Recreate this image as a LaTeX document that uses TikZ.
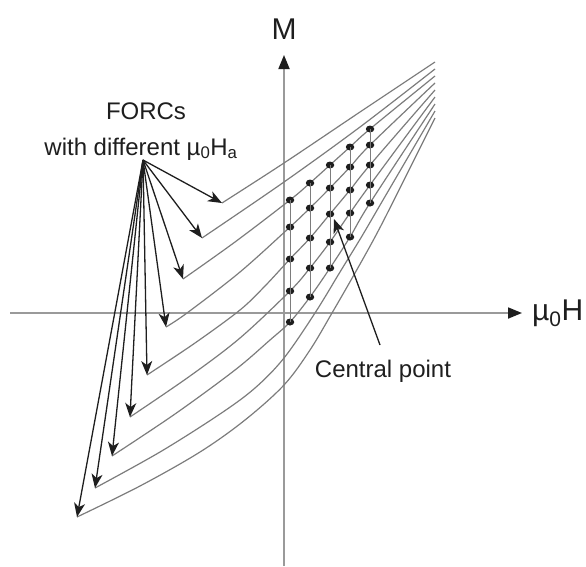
\documentclass[tikz,border=0pt]{standalone}
\usepackage{fontspec}
\setmainfont{Liberation Sans}
\usetikzlibrary{arrows.meta,shapes.geometric}
\definecolor{curvegray}{HTML}{7C7C7C}
\definecolor{axisgray}{HTML}{9A9A9A}
\definecolor{txt}{HTML}{1E1E1E}
\begin{document}
\begin{tikzpicture}[x=1pt,y=-1pt,
  curve/.style={draw=curvegray,line width=1.2pt},
  axis/.style={draw=axisgray,line width=1.8pt,-{Triangle[length=14pt,width=11pt,color=txt]}},
  pointer/.style={draw=txt,line width=1.3pt,-{Stealth[length=14pt,width=11pt,inset=4pt]}},
  gridline/.style={draw=curvegray,line width=1pt},
  dot/.style={fill=txt,ellipse,inner sep=0pt,minimum width=8.5pt,minimum height=7pt,draw=none},
  lab/.style={text=txt,inner sep=0pt,font=\fontsize{24}{28}\selectfont},
  biglab/.style={text=txt,inner sep=0pt,font=\fontsize{30}{34}\selectfont}]
\useasboundingbox (0,0) rectangle (586,566);
% axes
\coordinate (hx0) at (10,313);
\coordinate (hx1) at (522,313);
\coordinate (vy0) at (284,566);
\coordinate (vy1) at (284,55);
\draw[axis] (hx0) -- (hx1);
\draw[axis] (vy0) -- (vy1);
\node[biglab] (M) at (284,29) {M};
\node[biglab,anchor=west] (muH) at (532,313) {µ\textsubscript{0}H};
% curves
\draw[curve] plot[smooth,tension=0.55] coordinates {(222,203) (284,163) (360,112) (435,62)};
\draw[curve] plot[smooth,tension=0.55] coordinates {(202,238) (284,182) (360,127) (435,69)};
\draw[curve] plot[smooth,tension=0.55] coordinates {(183,279) (235,242) (290,200) (310,183) (330,165) (350,147) (370,129) (435,76)};
\draw[curve] plot[smooth,tension=0.55] coordinates {(166,327) (187,313) (240,272) (290,227) (310,208) (330,188) (350,167) (370,145) (435,83)};
\draw[curve] plot[smooth,tension=0.55] coordinates {(147,375) (195,343) (240,310) (265,286) (290,259) (310,238) (330,214) (350,190) (370,165) (435,90)};
\draw[curve] plot[smooth,tension=0.55] coordinates {(130,417) (190,376) (240,338) (290,291) (310,268) (330,242) (350,213) (370,185) (435,97)};
\draw[curve] plot[smooth,tension=0.55] coordinates {(112,456) (175,414) (235,370) (270,340) (290,322) (310,297) (330,268) (350,237) (370,203) (435,104)};
\draw[curve] plot[smooth,tension=0.55] coordinates {(95,488) (160,452) (220,414) (255,388) (284,358) (315,313) (340,272) (362,236) (383,200) (435,111)};
\draw[curve] plot[smooth,tension=0.55] coordinates {(77,517) (140,486) (200,452) (245,420) (284,385) (310,350) (332,313) (355,273) (375,237) (394,200) (435,118)};
% dot grid
\foreach \c/\x/\ya/\yb/\yc/\yd/\ye in {1/290/200/227/259/291/322, 2/310/183/208/238/268/297, 3/330/165/188/214/242/268, 4/350/147/167/190/213/237, 5/370/129/145/165/185/203}{
  \node[dot] (d-\c-1) at (\x,\ya) {};
  \node[dot] (d-\c-2) at (\x,\yb) {};
  \node[dot] (d-\c-3) at (\x,\yc) {};
  \node[dot] (d-\c-4) at (\x,\yd) {};
  \node[dot] (d-\c-5) at (\x,\ye) {};
  \draw[gridline] (d-\c-1.center) -- (d-\c-5.center);
}
% labels and pointers
\node[lab] (forcs) at (146,111) {FORCs};
\node[lab] (diff) at (141,149) {with different µ\textsubscript{0}H\textsubscript{a}};
\coordinate (src) at (143,160);
\coordinate (s1) at (222,203);
\coordinate (s2) at (202,238);
\coordinate (s3) at (183,279);
\coordinate (s4) at (166,327);
\coordinate (s5) at (147,375);
\coordinate (s6) at (130,417);
\coordinate (s7) at (112,456);
\coordinate (s8) at (95,488);
\coordinate (s9) at (77,517);
\foreach \i in {1,...,9}{\draw[pointer] (src) -- (s\i);}
\node[lab] (cp) at (383,371) {Central point};
\coordinate (cpt) at (380,345);
\coordinate (cpe) at (334,219);
\draw[pointer] (cpt) -- (cpe);
\end{tikzpicture}
\end{document}
